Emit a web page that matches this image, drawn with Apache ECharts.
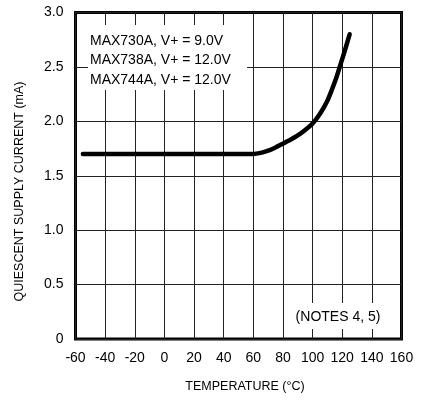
<!DOCTYPE html>
<html>
<head>
<meta charset="utf-8">
<script src="https://cdn.jsdelivr.net/npm/echarts@6/dist/echarts.min.js"></script>
<style>html,body{margin:0;padding:0;background:#fff;}#c{width:425px;height:402px;}</style>
</head>
<body>
<div id="c"></div>
<script>
var temperatures = [-55, 60, 65, 70, 75, 80, 85, 90, 95, 100, 105, 110, 113, 116, 119, 122, 125];
var currents     = [1.70, 1.70, 1.71, 1.73, 1.76, 1.795, 1.83, 1.87, 1.92, 1.98, 2.07, 2.19, 2.29, 2.40, 2.53, 2.66, 2.80];
var xTicks = [-60, -40, -20, 0, 20, 40, 60, 80, 100, 120, 140, 160];
var yTicks = [0, 0.5, 1.0, 1.5, 2.0, 2.5, 3.0];
var annotationLines = ['MAX730A, V+ = 9.0V', 'MAX738A, V+ = 12.0V', 'MAX744A, V+ = 12.0V'];
var notesText = '(NOTES 4, 5)';
var xTitle = 'TEMPERATURE (°C)';
var yTitle = 'QUIESCENT SUPPLY CURRENT (mA)';

var FONT = 'Liberation Sans, Arial, sans-serif';
var chart = echarts.init(document.getElementById('c'), null, {renderer: 'canvas'});
chart.setOption({
  animation: false,
  backgroundColor: '#fff',
  grid: {left: 75.5, top: 12.5, width: 326, height: 326.5, show: true, borderColor: '#000', borderWidth: 3, backgroundColor: 'transparent'},
  xAxis: {
    type: 'value', min: xTicks[0], max: xTicks[xTicks.length - 1], interval: 20,
    axisLine: {show: false}, axisTick: {show: false},
    axisLabel: {color: '#000', fontSize: 14, fontFamily: FONT, margin: 12},
    splitLine: {show: true, lineStyle: {color: '#222', width: 1}}
  },
  yAxis: {
    type: 'value', min: yTicks[0], max: yTicks[yTicks.length - 1], interval: 0.5,
    axisLine: {show: false}, axisTick: {show: false},
    axisLabel: {color: '#000', fontSize: 14, fontFamily: FONT, margin: 12,
      formatter: function (v) { return v === 0 ? '0' : v.toFixed(1); }},
    splitLine: {show: true, lineStyle: {color: '#222', width: 1}}
  },
  graphic: [
    {type: 'rect', shape: {x: 88, y: 25, width: 159, height: 65}, style: {fill: '#fff'}, z: 50},
    {type: 'text', x: 90, y: 41, z: 51, style: {text: annotationLines[0], font: '14px ' + FONT, fill: '#000', verticalAlign: 'middle'}},
    {type: 'text', x: 90, y: 60, z: 51, style: {text: annotationLines[1], font: '14px ' + FONT, fill: '#000', verticalAlign: 'middle'}},
    {type: 'text', x: 90, y: 80, z: 51, style: {text: annotationLines[2], font: '14px ' + FONT, fill: '#000', verticalAlign: 'middle'}},
    {type: 'rect', shape: {x: 293, y: 303, width: 90, height: 26}, style: {fill: '#fff'}, z: 50},
    {type: 'text', x: 338, y: 317.5, z: 51, style: {text: notesText, font: '14px ' + FONT, fill: '#000', align: 'center', verticalAlign: 'middle'}},
    {type: 'text', x: 245, y: 387, z: 51, style: {text: xTitle, font: '12.5px ' + FONT, fill: '#000', align: 'center', verticalAlign: 'middle'}},
    {type: 'text', x: 20, y: 191.5, rotation: Math.PI / 2, z: 51, style: {text: yTitle, font: '12.5px ' + FONT, fill: '#000', align: 'center', verticalAlign: 'middle'}}
  ],
  series: [{
    type: 'line', smooth: 0.2, symbol: 'none',
    data: temperatures.map(function (t, i) { return [t, currents[i]]; }),
    lineStyle: {color: '#000', width: 4.5, cap: 'round', join: 'round'}
  }]
});
</script>
</body>
</html>
